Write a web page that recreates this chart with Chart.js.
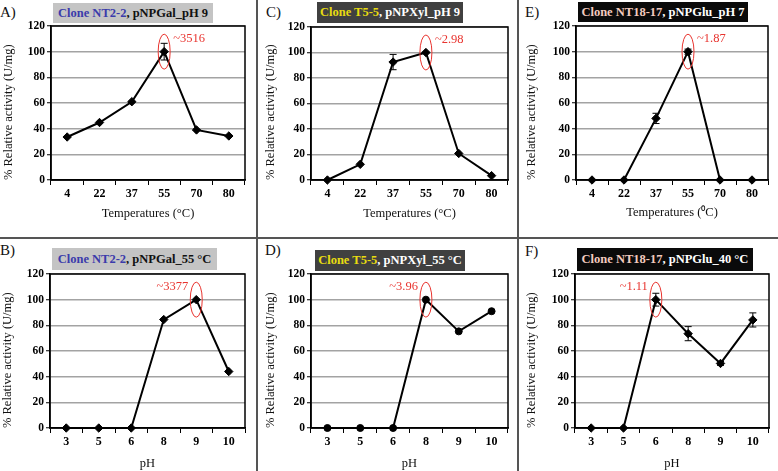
<!DOCTYPE html>
<html>
<head>
<meta charset="utf-8">
<script src="https://cdn.jsdelivr.net/npm/chart.js@4.4.1/dist/chart.umd.min.js"></script>
<style>
  html, body { margin:0; padding:0; background:#fff; }
  #fig { position:relative; width:778px; height:471px; overflow:hidden; background:#fff; font-family:'Liberation Serif','Times New Roman',serif; }
  canvas { position:absolute; }
  .div-v { position:absolute; top:0; width:1.5px; height:471px; background:#555; }
  .div-h { position:absolute; left:0; height:1.5px; width:778px; background:#555; }
  .lbl { position:absolute; font-size:15px; color:#111; line-height:1; }
  .tbox { position:absolute; display:flex; align-items:center; justify-content:center; font-weight:bold; font-size:12.5px; white-space:nowrap; }
</style>
</head>
<body>
<div id="fig">
  <div class="div-v" style="left:256px"></div>
  <div class="div-v" style="left:517px"></div>
  <div class="div-h" style="top:237px"></div>

  <div class="lbl" style="left:0px;top:5px">A)</div>
  <div class="lbl" style="left:266px;top:5px">C)</div>
  <div class="lbl" style="left:525px;top:5px">E)</div>
  <div class="lbl" style="left:0px;top:243px">B)</div>
  <div class="lbl" style="left:265px;top:243px">D)</div>
  <div class="lbl" style="left:525px;top:244px">F)</div>

  <div class="tbox" style="left:53px;top:3px;width:160px;height:20px;background:#c4c4c4;"><span style="color:#3b3bab">Clone NT2-2</span><span style="color:#111">, pNPGal_pH 9</span></div>
  <div class="tbox" style="left:317px;top:2px;width:146px;height:21px;background:#404040;"><span style="color:#e8dc10">Clone T5-5</span><span style="color:#fff">, pNPXyl_pH 9</span></div>
  <div class="tbox" style="left:578px;top:2px;width:170px;height:20px;background:#0a0a0a;"><span style="color:#f3cabf">Clone NT18-17</span><span style="color:#fff">, pNPGlu_pH 7</span></div>
  <div class="tbox" style="left:52px;top:248px;width:165px;height:22px;background:#c4c4c4;"><span style="color:#3b3bab">Clone NT2-2</span><span style="color:#111">, pNPGal_55 °C</span></div>
  <div class="tbox" style="left:315px;top:250px;width:150px;height:21px;background:#404040;"><span style="color:#e8dc10">Clone T5-5</span><span style="color:#fff">, pNPXyl_55 °C</span></div>
  <div class="tbox" style="left:577px;top:248px;width:176px;height:23px;background:#0a0a0a;"><span style="color:#f3cabf">Clone NT18-17</span><span style="color:#fff">, pNPGlu_40 °C</span></div>
</div>
<script>
// ---------- DATA ----------
const tempLabels = ['4', '22', '37', '55', '70', '80'];
const phLabels = ['3', '5', '6', '8', '9', '10'];
const yTicks = [0, 20, 40, 60, 80, 100, 120];

const nt22Temp    = [33.5, 44.8, 61, 100, 39, 34.3];
const nt22TempErr = [0, 0, 0, 6.5, 0, 0];
const t55Temp     = [0, 12.3, 92.5, 100, 20.8, 3.4];
const t55TempErr  = [0, 0, 6, 0, 0, 0];
const nt1817Temp    = [0, 0, 48, 100, 0, 0];
const nt1817TempErr = [0, 0, 4, 2, 0, 0];

const nt22Ph    = [0, 0, 0, 84.5, 100, 44];
const nt22PhErr = [0, 0, 0, 0, 0, 0];
const t55Ph     = [0, 0, 0, 100, 75.3, 91];
const t55PhErr  = [0, 0, 0, 0, 0, 0];
const nt1817Ph    = [0, 0, 100, 73.5, 50.3, 84.2];
const nt1817PhErr = [0, 0, 5, 5.5, 1.5, 5.5];

const peakTexts = ['~3516', '~2.98', '~1.87', '~3377', '~3.96', '~1.11'];
const peakIdx   = [3, 3, 3, 4, 3, 2];

// ---------- DRAWING ----------
const SERIF = "'Liberation Serif','Times New Roman',serif";

const decorPlugin = {
  id: 'decor',
  afterDatasetsDraw(chart, args, opts) {
    const ctx = chart.ctx;
    const meta = chart.getDatasetMeta(0);
    const ys = chart.scales.y;
    const data = chart.data.datasets[0].data;
    ctx.save();
    // error bars
    ctx.strokeStyle = '#000';
    ctx.lineWidth = 1;
    (opts.err || []).forEach((e, i) => {
      if (!e) return;
      const x = meta.data[i].x;
      const t = ys.getPixelForValue(data[i] + e);
      const b = ys.getPixelForValue(data[i] - e);
      ctx.beginPath();
      ctx.moveTo(x, t); ctx.lineTo(x, b);
      ctx.moveTo(x - 3.5, t); ctx.lineTo(x + 3.5, t);
      ctx.moveTo(x - 3.5, b); ctx.lineTo(x + 3.5, b);
      ctx.stroke();
    });
    // peak ellipse + text
    const p = meta.data[opts.peak];
    ctx.strokeStyle = '#e8332e';
    ctx.lineWidth = 1;
    ctx.beginPath();
    ctx.ellipse(p.x, p.y, 6, 17.5, 0, 0, Math.PI * 2);
    ctx.stroke();
    ctx.fillStyle = '#e8332e';
    ctx.font = '12.5px ' + SERIF;
    ctx.textBaseline = 'middle';
    const ty = ys.getPixelForValue(110);
    if (opts.side === 'right') {
      ctx.textAlign = 'left';
      ctx.fillText(opts.text, p.x + 9, ty);
    } else {
      ctx.textAlign = 'right';
      ctx.fillText(opts.text, p.x - 8, ty);
    }
    ctx.restore();
  },
  afterDraw(chart) {
    const a = chart.chartArea;
    const ctx = chart.ctx;
    ctx.save();
    ctx.strokeStyle = '#000';
    ctx.lineWidth = 1.5;
    ctx.strokeRect(a.left, a.top, a.right - a.left, a.bottom - a.top);
    ctx.restore();
  }
};

function makeChart(cell, pad, yW, xH, labels, values, err, xTitle, pointStyle, peak, text, side) {
  const fig = document.getElementById('fig');
  const c = document.createElement('canvas');
  c.width = cell.w; c.height = cell.h;
  c.style.left = cell.left + 'px'; c.style.top = cell.top + 'px';
  c.style.width = cell.w + 'px'; c.style.height = cell.h + 'px';
  fig.appendChild(c);
  new Chart(c, {
    type: 'line',
    data: {
      labels: labels,
      datasets: [{
        data: values,
        borderColor: '#000',
        borderWidth: 2,
        pointStyle: pointStyle,
        pointRadius: pointStyle === 'circle' ? 3.5 : 4.2,
        pointBackgroundColor: '#000',
        pointBorderColor: '#000',
        pointBorderWidth: 1,
        tension: 0,
        clip: false
      }]
    },
    options: {
      responsive: false,
      animation: false,
      devicePixelRatio: 1,
      layout: { padding: pad },
      plugins: {
        legend: { display: false },
        tooltip: { enabled: false },
        decor: { err: err, peak: peak, text: text, side: side }
      },
      scales: {
        x: {
          type: 'category',
          offset: true,
          grid: { offset: true, drawOnChartArea: false, drawTicks: true, tickLength: 5, color: '#000', lineWidth: 1 },
          border: { color: '#000', width: 1.5 },
          ticks: { color: '#000', font: { family: SERIF, weight: 'bold', size: 12 }, padding: 2, maxRotation: 0, autoSkip: false },
          title: { display: true, text: xTitle, color: '#111', font: { family: SERIF, size: 12.5 }, padding: { top: 0, bottom: 0 } },
          afterFit: s => { s.height = xH; }
        },
        y: {
          min: 0, max: 120,
          afterBuildTicks: s => { s.ticks = yTicks.map(v => ({ value: v })); },
          grid: { color: '#a3a3a3', lineWidth: 1.5, tickLength: 4, tickColor: '#000', tickWidth: 1 },
          border: { color: '#000', width: 1.5 },
          ticks: { color: '#000', font: { family: SERIF, weight: 'bold', size: 11.5 }, padding: 2 },
          title: { display: true, text: '% Relative activity (U/mg)', align: 'start', color: '#111', font: { family: SERIF, size: 12.5 }, padding: { top: 0, bottom: 0 } },
          afterFit: s => { s.width = yW; }
        }
      }
    },
    plugins: [decorPlugin]
  });
}

makeChart({left:0, top:0, w:256, h:237}, {left:1, top:26, right:11, bottom:16}, 50, 41,
  tempLabels, nt22Temp, nt22TempErr, 'Temperatures (°C)', 'rectRot', peakIdx[0], peakTexts[0], 'right');
makeChart({left:258, top:0, w:259, h:237}, {left:5, top:27, right:9, bottom:16}, 48, 41,
  tempLabels, t55Temp, t55TempErr, 'Temperatures (°C)', 'rectRot', peakIdx[1], peakTexts[1], 'right');
makeChart({left:519, top:0, w:259, h:237}, {left:5, top:26, right:10, bottom:17}, 52, 40,
  tempLabels, nt1817Temp, nt1817TempErr, 'Temperatures (⁰C)', 'rectRot', peakIdx[2], peakTexts[2], 'right');
makeChart({left:0, top:238, w:256, h:233}, {left:0, top:36, right:11, bottom:0}, 50, 43,
  phLabels, nt22Ph, nt22PhErr, 'pH', 'rectRot', peakIdx[3], peakTexts[3], 'left');
makeChart({left:258, top:238, w:259, h:233}, {left:5, top:36, right:9, bottom:0}, 48, 43,
  phLabels, t55Ph, t55PhErr, 'pH', 'circle', peakIdx[4], peakTexts[4], 'left');
makeChart({left:519, top:238, w:259, h:233}, {left:5, top:36, right:9, bottom:0}, 51, 43,
  phLabels, nt1817Ph, nt1817PhErr, 'pH', 'rectRot', peakIdx[5], peakTexts[5], 'left');
</script>
</body>
</html>
